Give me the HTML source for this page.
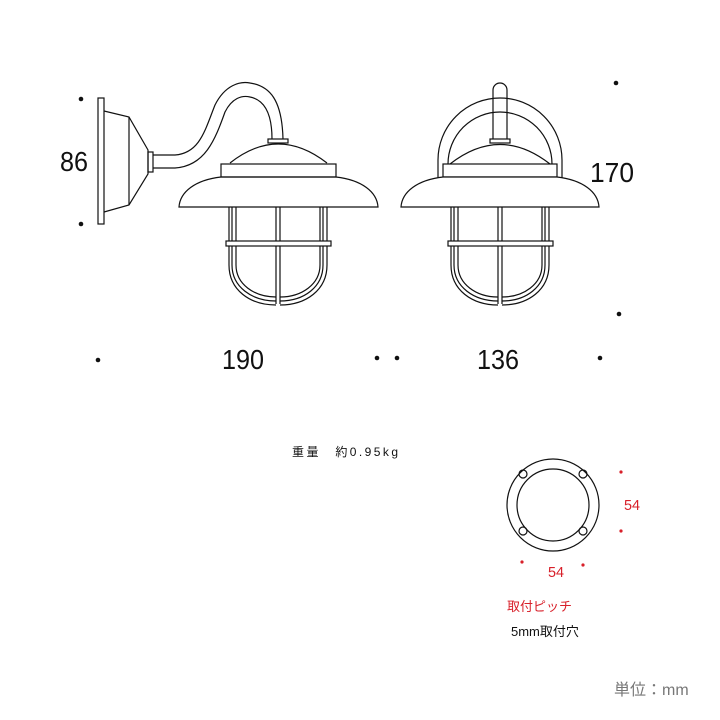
<!DOCTYPE html>
<html><head><meta charset="utf-8"><style>
html,body{margin:0;padding:0;background:#fff;}
svg{display:block;}
text{font-family:"Liberation Sans","Noto Sans CJK JP",sans-serif;}
</style></head><body>
<svg width="720" height="720" viewBox="0 0 720 720" xmlns="http://www.w3.org/2000/svg">
<g fill="none" stroke="#111" stroke-width="1.2">
<rect x="98" y="98" width="6" height="126"/>
<path d="M104 111 L129 117 L148 150 L148 174 L129 205 L104 212"/>
<line x1="129" y1="117" x2="129" y2="205"/>
<rect x="148" y="152" width="5" height="20"/>
<path d="M153 155 L175 155 C200 153 205 130 215 105 C225 85 240 81 250 83 C270 86 282 100 283 139"/>
<path d="M153 168 L175 168 C205 166 215 140 225 112 C232 98 242 95 250 97 C265 100 272 115 272 139"/>
<rect x="268" y="139" width="20" height="4"/>
<path d="M230 163 Q278 125 327 163"/>
<rect x="221" y="164" width="115" height="13"/>
<path d="M179 207 C180 192 195 180 221 177 L336 177 C362 180 377 192 378 207 Z"/>
<g id="cage">
<line x1="229" y1="207" x2="229" y2="265"/>
<line x1="232" y1="207" x2="232" y2="265"/>
<line x1="236" y1="207" x2="236" y2="265"/>
<line x1="276" y1="207" x2="276" y2="304"/>
<line x1="280" y1="207" x2="280" y2="304"/>
<line x1="320" y1="207" x2="320" y2="265"/>
<line x1="323" y1="207" x2="323" y2="265"/>
<line x1="327" y1="207" x2="327" y2="265"/>
<path d="M229 265 C229 290 250 305 276 305"/>
<path d="M232 265 C232 287 252 301 276 301"/>
<path d="M236 265 C236 284 254 297 276 297"/>
<path d="M327 265 C327 290 306 305 280 305"/>
<path d="M323 265 C323 287 304 301 280 301"/>
<path d="M320 265 C320 284 302 297 280 297"/>
<rect x="226" y="241" width="105" height="5" fill="#fff"/>
</g>
<path d="M438 178 L438 160 A62 62 0 0 1 562 160 L562 178"/>
<path d="M448 178 L448 164 A52 52 0 0 1 552 164 L552 178"/>
<path d="M493 139 L493 90 A7 7 0 0 1 507 90 L507 139"/>
<rect x="490" y="139" width="20" height="4" fill="#fff"/>
<path d="M450 164 Q500 125 550 164" fill="#fff"/>
<rect x="443" y="164" width="114" height="13" fill="#fff"/>
<path d="M401 207 C402 192 417 180 443 177 L557 177 C583 180 598 192 599 207 Z" fill="#fff"/>
<use href="#cage" transform="translate(222 0)"/>
<circle cx="553" cy="505" r="46"/>
<circle cx="553" cy="505" r="36"/>
<circle cx="523" cy="474" r="4"/>
<circle cx="583" cy="474" r="4"/>
<circle cx="523" cy="531" r="4"/>
<circle cx="583" cy="531" r="4"/>
</g>
<g fill="#111">
<circle cx="81" cy="99" r="2.3"/><circle cx="81" cy="224" r="2.3"/>
<circle cx="98" cy="360" r="2.3"/><circle cx="377" cy="358" r="2.3"/><circle cx="397" cy="358" r="2.3"/><circle cx="600" cy="358" r="2.3"/>
<circle cx="616" cy="83" r="2.3"/><circle cx="619" cy="314" r="2.3"/>
</g>
<g fill="#d8202a">
<circle cx="621" cy="472" r="1.6"/><circle cx="621" cy="531" r="1.6"/>
<circle cx="522" cy="562" r="1.6"/><circle cx="583" cy="565" r="1.6"/>
</g>
<g fill="#111" font-size="28">
<text x="60" y="171" textLength="28" lengthAdjust="spacingAndGlyphs">86</text>
<text x="222" y="369" textLength="42" lengthAdjust="spacingAndGlyphs">190</text>
<text x="477" y="369" textLength="42" lengthAdjust="spacingAndGlyphs">136</text>
<text x="590" y="182" textLength="44" lengthAdjust="spacingAndGlyphs">170</text>
</g>
<text x="292" y="456" font-size="12" fill="#111" textLength="106" lengthAdjust="spacing">重量　約0.95kg</text>
<text x="624" y="510" font-size="15" fill="#d8202a" textLength="16" lengthAdjust="spacingAndGlyphs">54</text>
<text x="548" y="577" font-size="15" fill="#d8202a" textLength="16" lengthAdjust="spacingAndGlyphs">54</text>
<text x="507" y="611" font-size="13" fill="#d8202a">取付ピッチ</text>
<text x="511" y="636" font-size="13" fill="#111">5mm取付穴</text>
<text x="614" y="695" font-size="16" fill="#777">単位：mm</text>
</svg>
</body></html>
